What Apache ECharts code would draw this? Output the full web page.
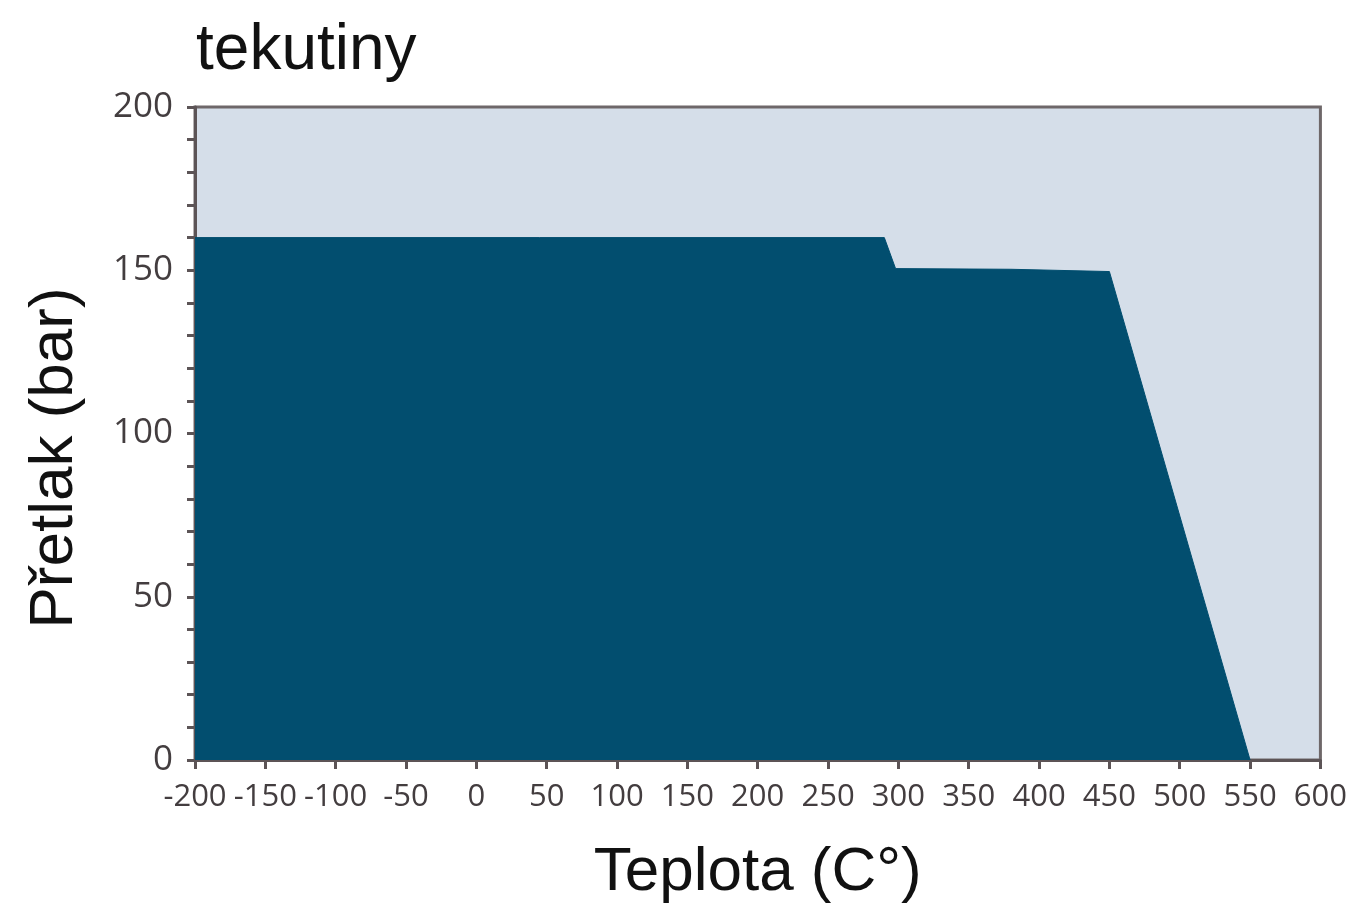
<!DOCTYPE html>
<html>
<head>
<meta charset="utf-8">
<script src="https://cdn.jsdelivr.net/npm/echarts@6/dist/echarts.min.js"></script>
<style>
html,body{margin:0;padding:0;background:#fff;}
#chart{width:1350px;height:912px;}
</style>
</head>
<body>
<div id="chart"></div>
<script>
// Data
const temperatures = [-200, 290, 298, 380, 450, 550];   // °C
const pressures    = [160, 160, 150.5, 150.3, 149.6, 0]; // bar
const titleText = 'tekutiny';
const xName = 'Teplota (C°)';
const yName = 'Přetlak (bar)';

const seriesData = temperatures.map((t, i) => [t, pressures[i]]);

const chart = echarts.init(document.getElementById('chart'), null, {renderer: 'canvas'});
const axisColor = '#5c5456';
const labelColor = '#433d3f';
chart.setOption({
  animation: false,
  title: {
    text: titleText,
    left: 191,
    top: 14,
    textStyle: {fontFamily: 'Liberation Sans, Arial, sans-serif', fontSize: 64, fontWeight: 'normal', color: '#111'}
  },
  grid: {
    left: 195, right: 27, top: 107, bottom: 152,
    show: true, backgroundColor: '#d5dee9', borderColor: '#6e6769', borderWidth: 3
  },
  xAxis: {
    type: 'value', min: -200, max: 600, interval: 50,
    name: xName, nameLocation: 'middle', nameGap: 82,
    nameTextStyle: {fontFamily: 'Liberation Sans, Arial, sans-serif', fontSize: 62, color: '#111'},
    axisLine: {show: true, onZero: false, lineStyle: {color: axisColor, width: 3}},
    axisTick: {show: true, length: 9, lineStyle: {color: axisColor, width: 3}},
    splitLine: {show: false},
    axisLabel: {
      margin: 22, color: labelColor, fontSize: 31,
      fontFamily: "'Open Sans', sans-serif",
      interval: 0, hideOverlap: false, showMinLabel: true, showMaxLabel: true
    }
  },
  yAxis: {
    type: 'value', min: 0, max: 200, interval: 50,
    axisLine: {show: true, onZero: false, lineStyle: {color: axisColor, width: 3}},
    axisTick: {show: true, length: 8, lineStyle: {color: axisColor, width: 3}},
    minorTick: {show: true, splitNumber: 5, length: 8, lineStyle: {color: axisColor, width: 3}},
    splitLine: {show: false},
    minorSplitLine: {show: false},
    axisLabel: {
      margin: 22, color: labelColor, fontSize: 35,
      fontFamily: "'Open Sans', sans-serif"
    }
  },
  graphic: [{
    type: 'text',
    x: 55, y: 458,
    rotation: Math.PI / 2,
    style: {
      text: yName,
      fontFamily: 'Liberation Sans, Arial, sans-serif',
      fontSize: 62,
      fill: '#111',
      textAlign: 'center',
      textVerticalAlign: 'middle'
    }
  }],
  series: [{
    type: 'line',
    data: seriesData,
    symbol: 'none',
    lineStyle: {width: 1, color: '#024e6f'},
    areaStyle: {color: '#024e6f', opacity: 1},
    z: 2
  }]
});
</script>
</body>
</html>
